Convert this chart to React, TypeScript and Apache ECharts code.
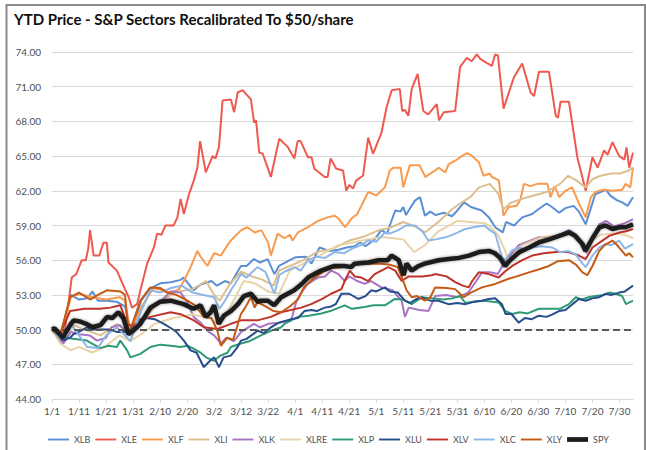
import React, { useEffect, useRef } from 'react';
import * as echarts from 'echarts';

const titleText = 'YTD Price - S&P Sectors Recalibrated To $50/share';
const tickLabels = ['1/1','1/11','1/21','1/31','2/10','2/20','3/2','3/12','3/22','4/1','4/11','4/21','5/1','5/11','5/21','5/31','6/10','6/20','6/30','7/10','7/20','7/30'];
const yMin = 44;
const yMax = 74;
const yStep = 3;
const baseline = 50;
const lastDay = 215;

// [day of year (0 = 1/1), price]
const XLB = [[0,50],[3,49.4],[7,53],[10,52.6],[13,52.7],[15,53.3],[17,52.5],[20,52.5],[24,52.4],[27,52],[29,50],[31,51],[33,52.5],[36,53.5],[40,54],[44,54.1],[47.6,54.3],[48.7,54.5],[52.4,53.4],[55,53.9],[59,54.2],[61,53.8],[64,54.2],[66.2,54],[69.9,55.5],[72,55.5],[74.7,56.1],[77,55.8],[79.8,56.1],[82.3,54.8],[84,55.5],[88,56],[90,56.25],[94,56.3],[96,55.7],[99,57.1],[102.6,56.8],[106,56.9],[109,57.1],[112,57.2],[114,57.55],[116,57.2],[119.4,57.8],[121.9,58.6],[124,58.3],[125,59],[127,60.3],[129,60.2],[130,60.6],[131,59.9],[132,60.3],[134.3,61.15],[136.2,61.45],[138,59.85],[140,60.2],[142,59.9],[145,60.1],[148,59.8],[150,60.3],[152.5,61],[155,60.6],[159,60.3],[161.7,59.7],[164,58.85],[166.8,58.4],[168,59.3],[171,59],[174,59.7],[177.7,60],[180,60.4],[183,60.9],[185,60.6],[187.7,60.1],[190,60.5],[193,60.7],[195,60.2],[197.5,59.1],[199,60.2],[201,61.7],[203,61.9],[205,62.1],[206.5,61.6],[209,61.2],[211,61],[213,60.7],[215,61.45]];
const XLE = [[0,50],[2,49.5],[4.8,50],[7.3,54.5],[9,54.8],[11,56],[12.5,56],[13.4,57],[14.1,58.6],[15.4,56.4],[17.5,56.4],[19,57.5],[20.3,57.5],[20.9,55.8],[24,55.1],[27,53.5],[28.4,52.8],[29.6,51.9],[31.5,52.2],[32.7,53.4],[35.2,55.7],[37.7,57.1],[38.9,58.3],[40.5,58.2],[42,59],[45,59],[46.4,59.7],[47.6,61.3],[48.8,60],[50.7,61.7],[52.5,62.9],[53.8,64],[54.8,66.3],[56.9,63.6],[59.4,65],[60.5,64.8],[61.8,65.8],[63.1,69.8],[66.2,69.9],[67.4,68.8],[68.7,70.5],[70.5,70.7],[73.6,69.9],[74.8,67.9],[75.5,68.1],[76.7,65.3],[78,65.2],[81,63.2],[82.3,64.6],[84.1,66.5],[87.2,65.8],[89.7,64.8],[90.9,66.3],[92,66.3],[94.7,64.9],[96,64.9],[97.1,63.9],[100.9,63.2],[102,63.2],[103.1,64.8],[105.2,63.9],[107.7,63.75],[108.9,62],[110,62.5],[111.4,62.2],[112.6,62.9],[115.1,63.3],[117,66.6],[118.8,65.2],[121.9,67],[123.8,69.2],[125.7,70.7],[128.7,70.8],[129.6,68.9],[130.5,69],[131.9,68.5],[133.1,70.8],[135.3,72.1],[137.4,68.9],[139.2,68.6],[142.4,69.5],[143.2,68.1],[145,68.8],[149.2,68.9],[151,72.7],[153.5,73.5],[155.3,73.2],[157.2,73.8],[158.5,73.4],[160.5,73.1],[162.8,72.8],[164,73.8],[165,73.7],[167.1,69.1],[170.9,71.8],[174,73],[177.1,70.5],[178.4,70.2],[180.2,72.3],[183.9,72.3],[186.4,68.5],[187.2,68.3],[188.2,69.7],[191.3,69.7],[194.4,64.9],[197.5,62],[200,64.9],[201.9,64],[204.3,65.5],[205.6,65.1],[207.4,66.2],[209.9,65],[211.8,64.7],[212.6,65.75],[213.6,64],[215,65.3]];
const XLF = [[0,50],[3,49.3],[7,52.8],[10,53.1],[15,52.8],[20,52.6],[25,52.8],[27,52.5],[29,49.8],[31,50.8],[33,51.9],[37.5,53.6],[41,53.4],[44,53.2],[47,53.5],[48.8,54.2],[51.3,55.4],[53.8,56.8],[55,56.3],[57.5,55.5],[60,56.6],[62.5,56.4],[64.9,57.3],[66.2,57.7],[70,58.6],[72.3,58.85],[75,58.4],[77.5,58.6],[80,57.5],[81,56.4],[83.5,58.3],[86,57.9],[88,58.2],[89,57.7],[91,58.4],[94.7,58.85],[98.4,59.4],[102,59.7],[104.5,59.85],[106,59.6],[108.5,58.85],[110.8,59.6],[113,60],[117,61.9],[120,61.6],[123.2,62.3],[125,63.75],[126.4,64],[129,64],[130,62.3],[132.4,64.2],[136,64.2],[138.2,63.2],[142,63.8],[143,64],[145.5,63.6],[146.8,64.3],[149.2,64.6],[151.7,65],[153.5,65.25],[155,65.1],[157.9,64.5],[159.7,63.3],[162,63.5],[162.8,63.2],[165.3,62.9],[167.1,59.85],[169,60.6],[172,60.7],[173.4,61.3],[174.6,62.6],[177,62.4],[179.6,62.6],[183.3,62.6],[184.5,61.45],[186,62.4],[187.7,61.45],[190,62],[192.5,62.3],[195,60.9],[197.5,59.7],[199.4,61.45],[201.2,61.9],[204,62.1],[207.4,62],[211,62.1],[212.3,62.6],[214,62.3],[215,64]];
const XLI = [[0,50],[3,49],[7,50.5],[12,50],[18,49.5],[24,50.5],[29,49.6],[33,50.5],[38,52],[45,53.2],[52,53.5],[57,54.2],[60,53],[62,52.5],[66,54],[70,55],[74,54.6],[78,54.3],[82,53.8],[84,55.1],[88,55.5],[93,56],[98,56.7],[104,57],[110,57.7],[115,58],[121,58.6],[125,58.8],[130,59.3],[135,58.85],[138,58.4],[143,59.3],[148,60.4],[151,60.9],[155,61.5],[158,62.3],[162,62.6],[165,61.8],[167,60.4],[170,61],[176,61.45],[183,61.9],[188,62.6],[191,63.3],[194,62.9],[197.5,62.3],[200,63],[203,63.3],[207,63.5],[210,63.5],[213,63.7],[215,64]];
const XLK = [[0,50],[2,49.4],[4.2,48.8],[7,49.8],[10,49.6],[14,49.5],[16.6,49.05],[20,49.3],[22,50.2],[25,50.4],[28.4,49.6],[31,50.2],[35,51.5],[40,52.4],[43.9,53.3],[47.6,53.2],[50,52.4],[52.4,51.1],[55,50.6],[58,49.8],[60,49.5],[62.5,48.8],[64.5,49.3],[67.3,49],[70,49.8],[74.7,50.5],[77,50.2],[80,50.5],[84,50.6],[88.5,50.8],[90.5,52.5],[92.2,53.2],[94.7,53.95],[98.4,54.5],[101,54.6],[103.3,55.1],[106,54.8],[108.3,54.2],[110,54.6],[113,54.2],[115.7,53.95],[118,54.2],[121.9,53.65],[126,53.4],[129.4,52.5],[130.6,51.1],[132,51.9],[136,51.7],[139.3,51.6],[141.8,52.9],[146,53],[150,52.8],[154,53.2],[157,54.2],[159.1,54.95],[162,54.95],[165,54.8],[167.8,56],[170,56.5],[172.7,57.3],[176,57.6],[180.2,58],[186,58],[191.3,58.6],[194,58.2],[196.3,57.1],[197.8,56.6],[200,57.7],[202.5,59.1],[205,59.4],[208,58.9],[212,59.2],[215,59.55]];
const XLRE = [[0,50],[3,48.8],[7,48.2],[10,48.5],[15,48],[20,48.6],[25,49.5],[29,49],[33,49.6],[38,50.5],[45,51],[52,51.3],[58,51],[62,50.4],[66,52],[71,54.2],[75,54],[80,53.3],[84,53.1],[88,55.1],[93,55.7],[99,56.4],[106,57.3],[115,57.7],[122,58],[130,57.8],[134,56.7],[138,57.3],[143,58.5],[150,59.4],[155,59.3],[160,59.2],[161.7,59],[165,58.2],[167.7,56.8],[169,55.8],[171,56.6],[174,57.3],[181,58],[186,58.1],[189,58.3],[192,58.2],[197,57.1],[198,56.7],[200,57.7],[203,58.2],[208,58.3],[212,58.2],[215,57.9]];
const XLP = [[0,50],[3,49.4],[7.8,49.2],[12.9,49.05],[17.8,48.4],[21,48.6],[24,48.5],[25.3,49.05],[27.8,48.2],[29,47.6],[32.7,47.9],[36.4,48.5],[40,48.7],[44,48.6],[47.6,48.5],[50,48.6],[52,48.4],[55,48],[57,47.6],[60,47.3],[62,47.7],[64.9,48],[66.2,48.5],[69.9,48.8],[73,49],[77.3,49.5],[81,49.9],[84.8,50.2],[86,50.5],[91,51.1],[95,51.2],[99.6,51.4],[103,51.6],[108.3,52.1],[111,51.8],[115.7,51.95],[119,52.1],[123.2,52.1],[126.9,52.65],[130,52.6],[133.1,52.2],[136.8,52.8],[141,52.7],[145,52.6],[148,52.7],[151,52.9],[153,52.3],[156,52.4],[160,52.5],[165.3,52.35],[167.8,51.6],[170.3,51.35],[173,51.5],[176,51.4],[180.2,51.8],[184,51.8],[188,51.8],[191.3,52.2],[193.8,52.8],[196,52.6],[198.5,52.8],[201.2,52.9],[204,53],[206.2,53.2],[208.5,53.1],[211,52.9],[212.4,52.2],[215,52.5]];
const XLU = [[0,50],[2,49.6],[4.2,49.05],[6.7,49.3],[7.9,49.6],[10,49.8],[12.9,50.2],[15,50],[18,50],[21,50],[24,49.8],[27.8,49.8],[30.2,50.2],[32.7,50.9],[35,51],[38,50.9],[41.4,50.5],[44.5,50.05],[46,49.8],[48.8,49.05],[51.3,48.2],[53.5,48],[56.2,46.75],[58,47.2],[60,47.6],[61.8,46.75],[63.5,47.6],[66.2,47.75],[68.7,48.5],[69.9,49.05],[72,49.2],[76.1,49.9],[78.5,49.7],[81,50.2],[84,50.6],[88.5,50.9],[91,51],[93.4,51.6],[96,51.7],[98,51.6],[100.9,51.9],[103.3,52],[105,52.2],[107.1,53.1],[110,53.1],[113.3,52.65],[116,52.9],[118.2,53.4],[120,53.3],[123.2,53.65],[125,53.3],[128,53.2],[130.6,52.5],[132.5,52.3],[134.5,52.6],[136.8,52.8],[140,52.5],[143,52.5],[146.7,52.2],[150,52.3],[153,52.2],[156,52.4],[159,52.5],[161.6,52.65],[164,52.7],[166.5,52.2],[167.8,51.35],[170,51.35],[172.7,50.6],[175,51],[177.5,50.9],[180.2,51.2],[183,51.1],[185,51.3],[187.6,51.6],[190,51.7],[192.6,52.2],[195,52.65],[197.5,52.5],[200,52.7],[202.5,52.8],[205,53.1],[207,53],[209.9,53.2],[212,53.3],[215,53.8]];
const XLV = [[0,50],[3,49.6],[6.7,51.6],[12,51.8],[17.8,51.8],[21.6,51.9],[25.3,52.1],[27.8,50.5],[30,50.3],[32.7,50.8],[36.4,51.1],[43.9,51.5],[48,51.3],[52.5,50.8],[56.2,50.2],[61.2,50.05],[66.2,50.5],[69.9,50.8],[76,50.8],[81,51.1],[84.8,51.5],[92.2,51.9],[95.9,52.2],[100,52.65],[103.3,53.1],[107.1,53.5],[108.3,54.2],[110.2,55.1],[112,54.6],[114.5,54.5],[117,54.2],[119.4,54.8],[124.4,55.4],[127,55.1],[129.4,54.2],[132,54.6],[137,54.6],[140.5,54.7],[141.8,54.8],[146,54.6],[149.2,54.1],[152,53.8],[154.2,53.65],[155.5,54.2],[157.9,54.95],[161.6,54.8],[165.3,54.5],[167.5,55],[170.3,55.5],[174,56],[177.7,56.4],[182,56.6],[186.4,56.7],[191,56.7],[195,56.4],[197.5,56.1],[200,57.1],[202.5,57.5],[206.2,58.1],[210,58.4],[212.5,58.5],[215,58.7]];
const XLC = [[0,50],[3,49.2],[7,50.5],[10,49.5],[13,48.5],[17,48.4],[20,49.5],[24,50.2],[27,49.5],[29,49],[33,51.6],[36.4,53.4],[40,53.2],[44,53.6],[48,53.8],[52,53.2],[56,53],[60,52.8],[62,51.8],[64,52.5],[66.2,53.4],[70,54.8],[72,54.5],[76,55.4],[79,55],[82.3,53.1],[84.1,54.7],[86,55],[89.7,55.4],[92,55.1],[94.7,56],[98,56.3],[101,56.2],[104.6,56.7],[108,56.6],[111,57],[114.5,57.3],[117,57.7],[120,57.6],[123.2,58.4],[125,58.3],[128.1,58.6],[131,59],[134.3,59],[137,58.5],[139.3,57.7],[142,57.8],[146,58],[149.2,58.3],[152.9,58.7],[157,58.9],[160,59],[162,58.6],[164,58.3],[166.5,56.25],[167.8,56],[170,56.8],[172.7,57.1],[175,56.9],[177.7,57.1],[181,57.2],[185.1,57.1],[188,56.7],[191,56.8],[193.8,56.5],[196.3,55.7],[197.5,55.4],[200,56.4],[202.5,57.1],[205,57.4],[207,57.3],[209.9,57.7],[212,57],[215,57.4]];
const XLY = [[0,50],[3,49.5],[6.7,52.8],[10,53.2],[14.1,52.6],[17,53],[20.3,53.4],[25.3,53.3],[27,53],[28.4,49.6],[30.2,50.8],[32.7,52.5],[36.4,53.65],[40,53.6],[42.6,53.2],[46,53],[50.1,52.5],[53,52.1],[56.2,51.1],[59,51],[61.2,49.9],[62.5,48.6],[64.9,49.3],[67,49.1],[69.9,51.35],[71.5,51.9],[73.6,52.8],[75,51.9],[76,52.4],[79.8,51.9],[82,51.6],[84.8,51.5],[88,52],[91,52.6],[93.4,53.7],[97.1,54.5],[100,54.95],[103.3,55.3],[107.1,55.4],[114.5,55.7],[121.9,55.7],[125,55.6],[128,55.4],[130,54.2],[131.2,53.4],[133.1,52.8],[135,52.9],[138,52.5],[140,52.8],[141.8,53.65],[146,53.6],[149.2,53.5],[151,53.1],[152.3,52.8],[155,53.2],[159.1,53.65],[164,53.95],[169,54.4],[172,54.6],[176.5,54.95],[180,55.2],[183.9,55.5],[187,55.9],[191.3,56],[194,55.6],[196.3,54.95],[198.1,54.7],[200,55.5],[202.5,56.8],[204.5,57.3],[207.4,57.7],[209.5,57.2],[212.4,56.4],[213.6,56.6],[215,56.25]];
const SPY = [[0,50],[1,50.1],[4,49.3],[7,50.5],[8,50.8],[10.4,50.7],[12.6,50.5],[15,50.2],[18,50.4],[20.4,51.1],[22.3,51],[24.5,51.5],[26.4,51],[28.3,49.6],[30,49.9],[32.7,50.5],[36.4,51.9],[40,52.4],[43.9,52.5],[48.7,52.2],[52.4,51.8],[55,52.1],[56.9,51.1],[58.7,51.5],[60,52.1],[61.7,50.5],[63.6,51.2],[66.2,51.6],[68.8,52.2],[71,52.9],[73.6,53.1],[76.2,52.4],[77.3,52.5],[79.9,52.5],[82.2,52.1],[84.8,52.8],[89.6,53.4],[92.2,53.9],[94.8,54.5],[97,54.8],[99.6,55.1],[104.5,55.5],[108.2,55.5],[110.8,55.4],[111.9,55.7],[117.1,55.8],[120.8,56],[124.2,56],[125.7,56.4],[128.3,56],[130.1,54.7],[131.2,55.7],[133.1,55.1],[135.7,55.5],[137.9,55.7],[143.1,56],[146.8,56.1],[150.6,56.2],[154.3,56.4],[158,56.7],[161.7,56.8],[163.9,56.6],[165.8,56.2],[167.7,55.5],[169.1,55.9],[172.9,56.7],[176.6,57.1],[180.3,57.55],[184,57.8],[187.7,58.1],[191.4,58.4],[193.7,58.1],[196.3,57.4],[197.4,56.8],[200,57.9],[202.6,58.85],[204.8,59],[207.4,58.7],[210,58.85],[212.3,58.85],[215,59.1]];

const seriesNames = ['XLB','XLE','XLF','XLI','XLK','XLRE','XLP','XLU','XLV','XLC','XLY','SPY'];
const seriesData = [XLB, XLE, XLF, XLI, XLK, XLRE, XLP, XLU, XLV, XLC, XLY, SPY];
const seriesColors = ['#5B8FD5','#EF5A50','#F89B4F','#DDBF8E','#A974C4','#E9D3A8','#2E9B76','#264E8C','#C0332B','#8DB7E8','#C55A14','#1E1E1E'];

const FONT = 'Lato, "Noto Sans", sans-serif';
const thinIcon = 'path://M0,0L0,0M0,5L0,5M0,1.5L22,1.5L22,3.5L0,3.5Z';
const thickIcon = 'path://M0,0L22,0L22,5L0,5Z';

export default function App() {
  const ref = useRef<HTMLDivElement>(null);
  useEffect(() => {
    if (!ref.current) return;
    const chart = echarts.init(ref.current, undefined, { renderer: 'svg' });
    const series: any[] = seriesNames.map((name, i) => {
      const isSpy = name === 'SPY';
      const s: any = {
        name,
        type: 'line',
        data: seriesData[i],
        showSymbol: false,
        symbol: 'none',
        color: seriesColors[i],
        lineStyle: isSpy
          ? { width: 4.5, color: seriesColors[i], shadowBlur: 3, shadowColor: 'rgba(0,0,0,0.45)' }
          : { width: 2, color: seriesColors[i] },
        z: isSpy ? 5 : 2,
        emphasis: { disabled: true },
      };
      if (isSpy) {
        s.markLine = {
          silent: true,
          symbol: ['none', 'none'],
          label: { show: false },
          lineStyle: { color: '#595959', type: [7, 4], width: 2 },
          data: [{ yAxis: baseline }],
        };
      }
      return s;
    });
    chart.setOption({
      animation: false,
      backgroundColor: '#ffffff',
      textStyle: { fontFamily: FONT },
      title: {
        text: titleText,
        left: 9,
        top: 6,
        textStyle: { fontFamily: FONT, fontSize: 15, fontWeight: 'bold', color: '#111111' },
      },
      graphic: [
        {
          type: 'rect',
          shape: { x: 6.5, y: 5, width: 638.5, height: 470 },
          style: { fill: 'none', stroke: '#8a8a8a', lineWidth: 2 },
          silent: true,
        },
      ],
      legend: {
        left: 43,
        top: 430,
        width: 600,
        itemWidth: 21,
        itemHeight: 5,
        itemGap: 5,
        textStyle: { fontFamily: FONT, fontSize: 9, color: '#505050' },
        data: seriesNames.map((n) => ({ name: n, icon: n === 'SPY' ? thickIcon : thinIcon })),
      },
      grid: { left: 52, right: 13, top: 52, bottom: 51 },
      xAxis: {
        type: 'value',
        min: 0,
        max: lastDay,
        interval: 10,
        splitLine: { show: false },
        axisLine: { show: true, lineStyle: { color: '#D9D9D9', width: 1 } },
        axisTick: { show: true, length: 4, lineStyle: { color: '#D9D9D9' } },
        axisLabel: {
          margin: 7,
          fontSize: 10,
          color: '#505050',
          fontFamily: FONT,
          showMaxLabel: false,
          formatter: (v: number) => (v % 10 === 0 ? tickLabels[Math.round(v / 10)] ?? '' : ''),
        },
      },
      yAxis: {
        type: 'value',
        min: yMin,
        max: yMax,
        interval: yStep,
        axisLine: { show: false },
        axisTick: { show: false },
        splitLine: { lineStyle: { color: '#D9D9D9', width: 1 } },
        axisLabel: {
          margin: 11,
          fontSize: 10,
          color: '#505050',
          fontFamily: FONT,
          formatter: (v: number) => v.toFixed(2),
        },
      },
      series,
    });
    return () => chart.dispose();
  }, []);
  return (
    <div
      ref={ref}
      style={{ position: 'absolute', left: 0, top: 0, width: 646, height: 450, background: '#fff' }}
    />
  );
}
